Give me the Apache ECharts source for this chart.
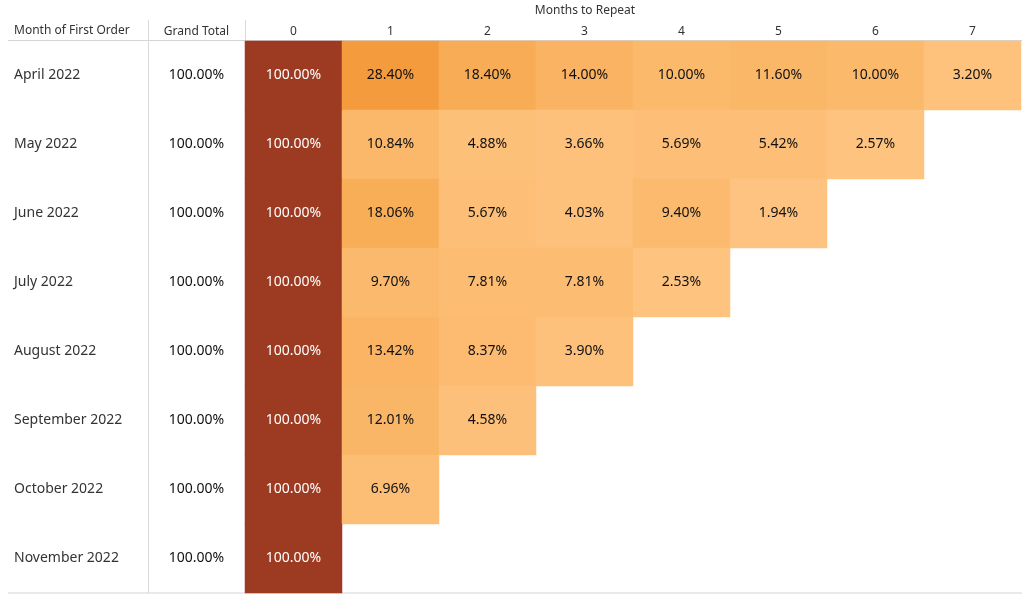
<!DOCTYPE html>
<html>
<head>
<meta charset="utf-8">
<script src="https://cdn.jsdelivr.net/npm/echarts@6/dist/echarts.min.js"></script>
<style>
html,body{margin:0;padding:0;background:#fff;}
#chart{width:1027px;height:597px;}
</style>
</head>
<body>
<div id="chart"></div>
<script>
const cohorts = ['April 2022','May 2022','June 2022','July 2022','August 2022','September 2022','October 2022','November 2022'];
const monthsToRepeat = ['0','1','2','3','4','5','6','7'];
const grandTotal = [100,100,100,100,100,100,100,100];
const apr22 = [100, 28.40, 18.40, 14.00, 10.00, 11.60, 10.00, 3.20];
const may22 = [100, 10.84, 4.88, 3.66, 5.69, 5.42, 2.57];
const jun22 = [100, 18.06, 5.67, 4.03, 9.40, 1.94];
const jul22 = [100, 9.70, 7.81, 7.81, 2.53];
const aug22 = [100, 13.42, 8.37, 3.90];
const sep22 = [100, 12.01, 4.58];
const oct22 = [100, 6.96];
const nov22 = [100];
const rows = [apr22, may22, jun22, jul22, aug22, sep22, oct22, nov22];

const FONT = 'Noto Sans';
const heatData = [];
rows.forEach((r, yi) => {
  r.forEach((v, xi) => {
    heatData.push({
      value: [xi, yi, v],
      label: { color: v >= 50 ? '#ffffff' : '#111111' }
    });
  });
});
const gtData = grandTotal.map((v, yi) => [0, yi, v]);

const chart = echarts.init(document.getElementById('chart'));
const gridTop = 41, gridBottom = 4;
chart.setOption({
  animation: false,
  textStyle: { fontFamily: FONT },
  grid: [
    { left: 245, right: 6, top: gridTop, bottom: gridBottom },
    { left: 148, width: 97, top: gridTop, bottom: gridBottom }
  ],
  xAxis: [
    { type: 'category', data: monthsToRepeat, position: 'top', gridIndex: 0,
      axisLine: { show: false }, axisTick: { show: false }, splitLine: { show: false },
      axisLabel: { color: '#333', fontSize: 12, margin: 3, fontFamily: FONT } },
    { type: 'category', data: ['Grand Total'], position: 'top', gridIndex: 1,
      axisLine: { show: false }, axisTick: { show: false },
      axisLabel: { color: '#333', fontSize: 12, margin: 3, fontFamily: FONT } }
  ],
  yAxis: [
    { type: 'category', data: cohorts, inverse: true, gridIndex: 0,
      axisLine: { show: false }, axisTick: { show: false }, splitLine: { show: false },
      axisLabel: { color: '#333', fontSize: 14, align: 'left', margin: 231, fontFamily: FONT } },
    { type: 'category', data: cohorts, inverse: true, gridIndex: 1, show: false }
  ],
  visualMap: {
    show: false, type: 'continuous', min: 0, max: 100, seriesIndex: 0, dimension: 2,
    inRange: { color: ['#FFC685','#FBB96C','#F7AA52','#F4983A','#EA8430','#DF7229','#D16024','#C25222','#B24721','#A64021','#9D3B22'] }
  },
  series: [
    { type: 'heatmap', xAxisIndex: 0, yAxisIndex: 0, data: heatData,
      label: { show: true, fontSize: 14, fontFamily: FONT,
        formatter: p => p.value[2].toFixed(2) + '%' },
      itemStyle: { borderWidth: 0 },
      emphasis: { disabled: true } },
    { type: 'scatter', xAxisIndex: 1, yAxisIndex: 1, data: gtData, symbolSize: 1,
      itemStyle: { opacity: 1, color: 'rgba(255,255,255,0)' },
      label: { show: true, position: 'inside', fontSize: 14, color: '#111111', fontFamily: FONT,
        formatter: p => p.value[2].toFixed(2) + '%' },
      emphasis: { disabled: true } }
  ],
  graphic: [
    { type: 'text', left: 14, top: 25, style: { text: 'Month of First Order', fontSize: 12, fill: '#333', fontFamily: FONT } },
    { type: 'text', x: 585, y: 11, style: { text: 'Months to Repeat', fontSize: 12, fill: '#333', fontFamily: FONT, align: 'center', verticalAlign: 'middle' } },
    { type: 'line', shape: { x1: 8, y1: 40.5, x2: 1022, y2: 40.5 }, style: { stroke: '#d4d4d4', lineWidth: 1 }, z: -1 },
    { type: 'line', shape: { x1: 8, y1: 593, x2: 1022, y2: 593 }, style: { stroke: '#d4d4d4', lineWidth: 1 }, z: -1 },
    { type: 'line', shape: { x1: 148.5, y1: 20, x2: 148.5, y2: 593 }, style: { stroke: '#d9d9d9', lineWidth: 1 }, z: -1 },
    { type: 'line', shape: { x1: 245.5, y1: 20, x2: 245.5, y2: 593 }, style: { stroke: '#d9d9d9', lineWidth: 1 }, z: -1 }
  ]
});
</script>
</body>
</html>
